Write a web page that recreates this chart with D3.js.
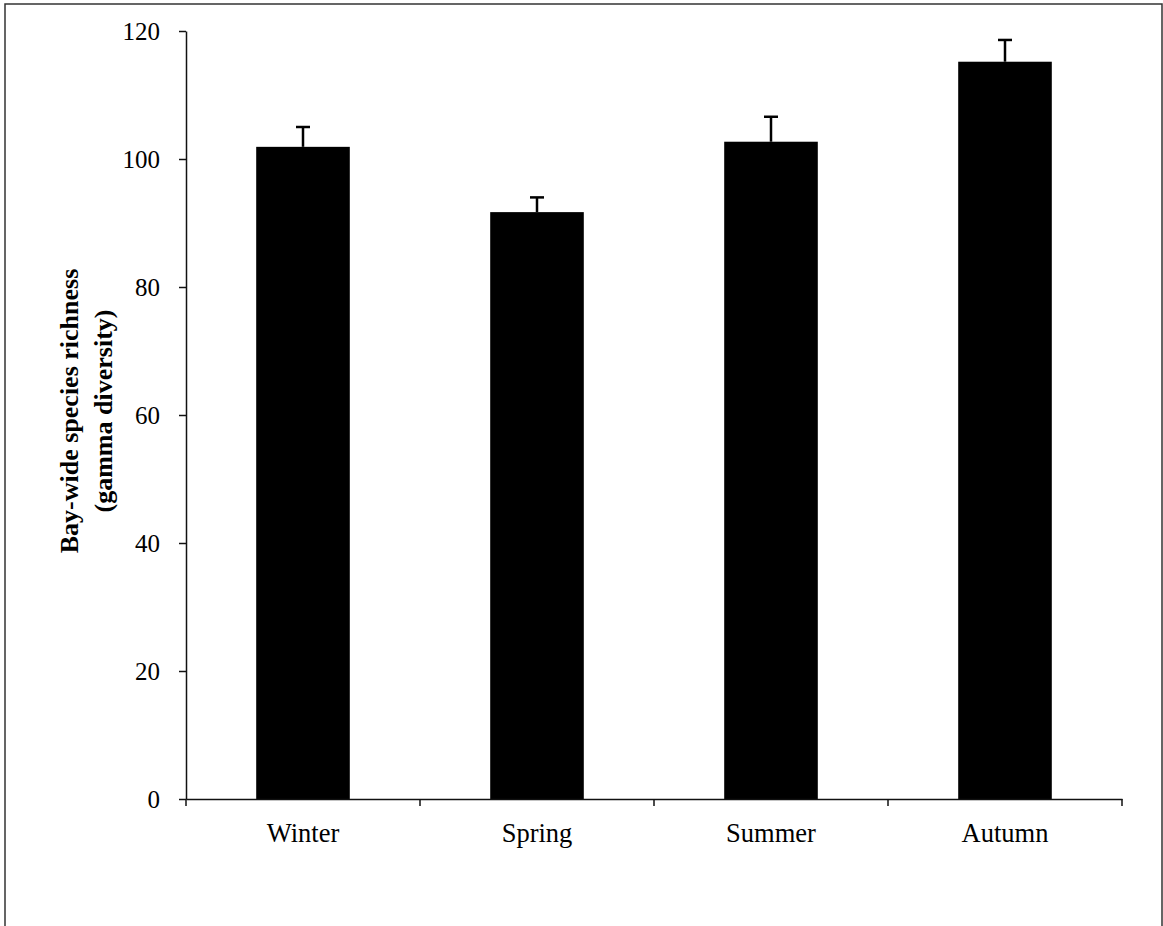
<!DOCTYPE html>
<html>
<head>
<meta charset="utf-8">
<script src="https://cdn.jsdelivr.net/npm/d3@7"></script>
<style>
    body { margin: 0; background: #fff; }
    svg { display: block; font-family: "Liberation Serif", "Times New Roman", serif; }
</style>
</head>
<body>
<div id="chart"></div>
<script>
// seasons and their bay-wide richness (mean + SE)
const seasons = ['Winter', 'Spring', 'Summer', 'Autumn'];
const richness = [101.9, 91.7, 102.7, 115.2];
const stdErr = [3.1, 2.3, 3.9, 3.4];
const yTicks = [0, 20, 40, 60, 80, 100, 120];

function init(){
    const width = 1163;
    const height = 926;
    const margin = {top: 31, right: 41, bottom: 127, left: 186};

    const svg = d3.select('#chart')
        .append('svg')
        .attr('width', width)
        .attr('height', height);

    // outer frame (bottom edge is cut off in the original)
    svg.append('path')
        .attr('d', `M5,${height + 5}V4H1162V${height + 5}`)
        .attr('fill', 'none')
        .attr('stroke', '#333')
        .attr('stroke-width', 1.5);

    const x = d3.scaleBand()
        .domain(seasons)
        .range([margin.left, width - margin.right])
        .paddingInner(0.6)
        .paddingOuter(0.3);

    const y = d3.scaleLinear()
        .domain([0, 120])
        .range([height - margin.bottom, margin.top]);

    const data = seasons.map((s, i) => ({season: s, value: richness[i], se: stdErr[i]}));

    // bars
    svg.append('g')
        .selectAll('rect')
        .data(data)
        .enter().append('rect')
        .attr('x', d => x(d.season))
        .attr('y', d => y(d.value))
        .attr('width', x.bandwidth())
        .attr('height', d => y(0) - y(d.value))
        .attr('fill', '#000');

    // error bars, upward only
    const err = svg.append('g')
        .attr('stroke', '#000')
        .attr('stroke-width', 2.5);

    err.selectAll('line.stem')
        .data(data)
        .enter().append('line')
        .attr('class', 'stem')
        .attr('x1', d => x(d.season) + x.bandwidth() / 2)
        .attr('x2', d => x(d.season) + x.bandwidth() / 2)
        .attr('y1', d => y(d.value))
        .attr('y2', d => y(d.value + d.se));

    err.selectAll('line.cap')
        .data(data)
        .enter().append('line')
        .attr('class', 'cap')
        .attr('x1', d => x(d.season) + x.bandwidth() / 2 - 7)
        .attr('x2', d => x(d.season) + x.bandwidth() / 2 + 7)
        .attr('y1', d => y(d.value + d.se))
        .attr('y2', d => y(d.value + d.se));

    // y axis
    const yAxis = svg.append('g')
        .attr('transform', `translate(${margin.left},0)`)
        .call(d3.axisLeft(y).tickValues(yTicks).tickSize(7).tickPadding(19).tickSizeOuter(0));

    yAxis.selectAll('text')
        .attr('font-size', 25)
        .attr('font-family', '"Liberation Serif", serif')
        .attr('fill', '#000');
    yAxis.selectAll('line, path').attr('stroke', '#111').attr('stroke-width', 1.5);

    // x axis: labels centred, ticks on the band boundaries
    const xAxis = svg.append('g')
        .attr('transform', `translate(0,${y(0)})`)
        .call(d3.axisBottom(x).tickSize(0).tickPadding(24).tickSizeOuter(0));

    xAxis.selectAll('text')
        .attr('font-size', 26.5)
        .attr('font-family', '"Liberation Serif", serif')
        .attr('fill', '#000');
    xAxis.select('path').attr('stroke', '#111').attr('stroke-width', 1.5);

    const bounds = seasons.map((s, i) => margin.left + i * x.step() + x.step() * x.paddingOuter() * 0)
        .map((v, i) => margin.left + i * (width - margin.right - margin.left) / seasons.length);
    bounds.push(width - margin.right);

    xAxis.selectAll('line.bound')
        .data(bounds)
        .enter().append('line')
        .attr('class', 'bound')
        .attr('x1', d => d)
        .attr('x2', d => d)
        .attr('y1', 0)
        .attr('y2', 7)
        .attr('stroke', '#111')
        .attr('stroke-width', 1.5);

    // y axis title
    const title = svg.append('text')
        .attr('transform', `translate(69,411) rotate(-90)`)
        .attr('text-anchor', 'middle')
        .attr('font-weight', 'bold')
        .attr('font-size', 26)
        .attr('fill', '#000');

    title.append('tspan')
        .attr('x', 0)
        .attr('dy', '0.35em')
        .text('Bay-wide species richness');

    title.append('tspan')
        .attr('x', 0)
        .attr('dy', 34)
        .text('(gamma diversity)');
}

window.onload = init;
</script>
</body>
</html>
